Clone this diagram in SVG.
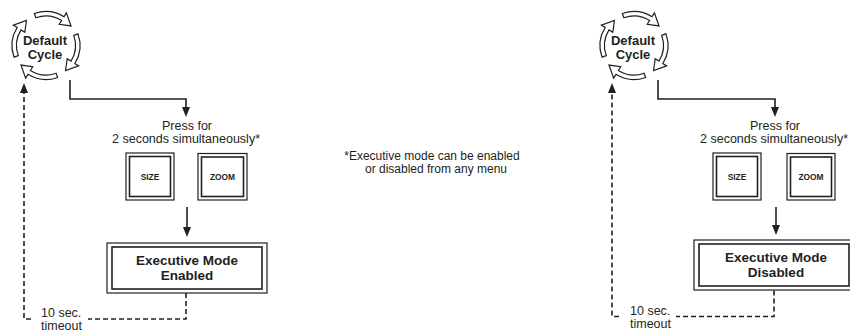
<svg xmlns="http://www.w3.org/2000/svg" xmlns:xlink="http://www.w3.org/1999/xlink" width="850" height="333" viewBox="0 0 850 333">
<style>
  text { font-family: "Liberation Sans", Arial, Helvetica, sans-serif; fill: #231f20; }
  .reg { font-size: 12.5px; }
  .fn { font-size: 12px; text-anchor: middle; }
  .cyc { font-size: 13px; font-weight: bold; text-anchor: middle; }
  .btn { font-size: 8.4px; font-weight: bold; text-anchor: middle; }
  .exe { font-size: 13.5px; font-weight: bold; text-anchor: middle; }
  .mid { text-anchor: middle; }
  .line { fill: none; stroke: #231f20; stroke-width: 1.6; }
  .dash { fill: none; stroke: #231f20; stroke-width: 1.6; stroke-dasharray: 5 3; }
  .outer { fill: #fff; stroke: #231f20; stroke-width: 1.2; }
  .inner { fill: none; stroke: #231f20; stroke-width: 1.6; }
  .carrow { fill: #fff; stroke: #231f20; stroke-width: 1.2; stroke-linejoin: miter; }
</style>
<defs>
  <marker id="arr" markerUnits="userSpaceOnUse" markerWidth="10" markerHeight="8" refX="7" refY="4" orient="auto">
    <path d="M0,0 L10,4 L0,8 Z" fill="#231f20"/>
  </marker>
  <path id="carc" class="carrow" d="M34.37,13.55 A34,34 0 0 1 64.02,16.67 L66.40,12.85 L71.02,25.95 L59.25,24.30 L61.63,20.48 A29.5,29.5 0 0 0 35.91,17.78 Z"/>
  <g id="cycle">
    <use xlink:href="#carc"/>
    <use xlink:href="#carc" transform="rotate(90 46 45.5)"/>
    <use xlink:href="#carc" transform="rotate(180 46 45.5)"/>
    <use xlink:href="#carc" transform="rotate(270 46 45.5)"/>
  </g>
</defs>

<!-- Connectors -->
<g id="connectors">
  <path class="line" d="M70,80 V99 H186 V114" marker-end="url(#arr)"/>
  <path class="line" d="M187,207 V234" marker-end="url(#arr)"/>
  <path class="dash" d="M186,293 V319 H88"/>
  <path class="dash" d="M31,319 H24 V86" marker-end="url(#arr)"/>

  <path class="line" d="M658,80 V99 H775 V114" marker-end="url(#arr)"/>
  <path class="line" d="M776,207 V232" marker-end="url(#arr)"/>
  <path class="dash" d="M774,290.5 V316.5 H676"/>
  <path class="dash" d="M619,316.5 H612 V86" marker-end="url(#arr)"/>
</g>

<!-- Left diagram -->
<g id="cycle-left">
  <use xlink:href="#cycle"/>
  <text class="cyc" x="45" y="45">Default</text>
  <text class="cyc" x="45" y="59">Cycle</text>
</g>
<g id="press-left">
  <text class="reg mid" x="187" y="130">Press for</text>
  <text class="reg mid" x="186" y="143">2 seconds simultaneously*</text>
</g>
<g id="btn-size-left">
  <rect class="outer" x="126" y="153" width="48" height="47"/>
  <rect class="inner" x="129.5" y="156.5" width="41" height="40"/>
  <text class="btn" x="150" y="179.5">SIZE</text>
</g>
<g id="btn-zoom-left">
  <rect class="outer" x="198" y="153.5" width="49" height="46.5"/>
  <rect class="inner" x="201.5" y="157" width="42" height="39.5"/>
  <text class="btn" x="222.5" y="180">ZOOM</text>
</g>
<g id="exec-left">
  <rect class="outer" x="107" y="243" width="160" height="50"/>
  <rect class="inner" x="112" y="247" width="150" height="42"/>
  <text class="exe" x="187" y="265">Executive Mode</text>
  <text class="exe" x="187" y="279.5">Enabled</text>
</g>
<g id="timeout-left">
  <text class="reg" x="41" y="317">10 sec.</text>
  <text class="reg" x="41" y="330">timeout</text>
</g>

<!-- Footnote -->
<g id="footnote">
  <text class="fn" x="432" y="160">*Executive mode can be enabled</text>
  <text class="fn" x="436" y="173">or disabled from any menu</text>
</g>

<!-- Right diagram -->
<g id="cycle-right">
  <use xlink:href="#cycle" transform="translate(588 0)"/>
  <text class="cyc" x="633" y="45">Default</text>
  <text class="cyc" x="633" y="59">Cycle</text>
</g>
<g id="press-right">
  <text class="reg mid" x="775" y="130">Press for</text>
  <text class="reg mid" x="774" y="143">2 seconds simultaneously*</text>
</g>
<g id="btn-size-right">
  <rect class="outer" x="713" y="153" width="48" height="47"/>
  <rect class="inner" x="716.5" y="156.5" width="41" height="40"/>
  <text class="btn" x="737" y="179.5">SIZE</text>
</g>
<g id="btn-zoom-right">
  <rect class="outer" x="787" y="153.5" width="48" height="46.5"/>
  <rect class="inner" x="790.5" y="157" width="41" height="39.5"/>
  <text class="btn" x="811" y="180">ZOOM</text>
</g>
<g id="exec-right">
  <rect class="outer" x="694" y="240" width="160" height="50"/>
  <rect class="inner" x="699" y="244" width="150" height="42"/>
  <text class="exe" x="776" y="262">Executive Mode</text>
  <text class="exe" x="776" y="276.5">Disabled</text>
</g>
<g id="timeout-right">
  <text class="reg" x="630" y="314.5">10 sec.</text>
  <text class="reg" x="630" y="327.5">timeout</text>
</g>
</svg>
